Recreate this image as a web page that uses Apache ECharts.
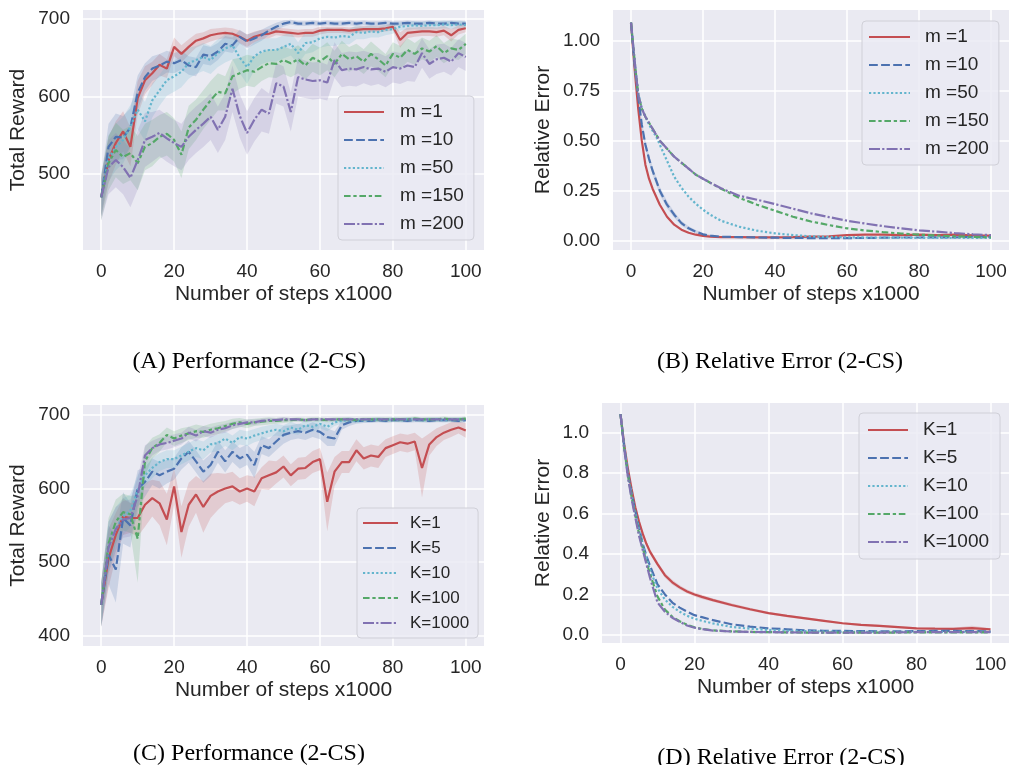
<!DOCTYPE html>
<html><head><meta charset="utf-8">
<script src="https://cdn.jsdelivr.net/npm/echarts@6/dist/echarts.min.js"></script>
<style>html,body{margin:0;padding:0;background:#fff;}#c{width:1010px;height:765px;}</style>
</head><body><div id="c"></div>
<script>
// ---------- x values ----------
const steps = [0,2,4,6,8,10,12,14,16,18,20,22,24,26,28,30,32,34,36,38,40,42,44,46,48,50,52,54,56,58,60,62,64,66,68,70,72,74,76,78,80,82,84,86,88,90,92,94,96,98,100];
const stepsErr = [0,1,2,3,4,5,6,7,8,10,12,14,16,18,20,22,25,30,35,40,45,50,55,60,65,70,75,80,85,90,95,100];

// ---------- names / ticks / captions ----------
const namesM = ['m =1','m =10','m =50','m =150','m =200'];
const namesK = ['K=1','K=5','K=10','K=100','K=1000'];
const xTicks = [0,20,40,60,80,100];
const rewardTicksA = [500,600,700];
const rewardTicksC = [400,500,600,700];
const errTicksB = [0,0.25,0.5,0.75,1.0];
const errTicksD = [0,0.2,0.4,0.6,0.8,1.0];
const captions = ['(A) Performance (2-CS)','(B) Relative Error (2-CS)','(C) Performance (2-CS)','(D) Relative Error (2-CS)'];

// ---------- Panel A : Total Reward, m ----------
const aM1   = [470,518,540,555,535,598,621,630,641,636,664,655,664,672,675,679,681,682,681,677,672,677,680,681,684,683,682,681,682,682,685,686,686,686,685,686,687,687,687,688,690,673,682,683,684,684,683,685,679,686,688];
const aM10  = [470,535,548,547,560,605,625,636,640,645,643,647,640,638,654,652,658,668,666,677,671,675,679,685,690,694,696,694,694,695,694,695,694,694,695,694,695,694,694,695,694,694,695,694,694,695,694,694,695,694,694];
const aM50  = [470,520,535,544,561,583,568,595,608,621,626,632,643,647,651,647,656,662,666,650,638,652,658,660,660,664,668,656,669,670,675,677,676,678,677,683,682,684,683,686,687,690,691,692,691,692,692,693,692,693,692];
const aM150 = [470,514,531,522,527,514,535,540,548,552,544,525,560,570,583,595,606,604,626,630,634,632,638,643,642,647,643,648,640,650,645,652,642,655,648,652,645,655,648,640,655,650,660,655,662,658,665,656,662,660,668];
const aM200 = [470,509,518,509,495,518,544,548,553,546,540,535,548,557,565,574,557,574,610,575,553,570,583,578,617,613,580,625,622,620,621,618,647,634,636,635,638,635,636,632,638,636,640,638,656,642,648,650,645,656,651];
const aS1   = [25,30,28,26,25,22,18,15,14,12,12,11,10,9,8,8,7,7,7,8,8,7,6,6,5,5,5,5,5,5,5,4,4,4,4,4,4,4,4,4,5,10,7,6,6,6,6,6,8,6,5];
const aS10  = [25,30,30,28,25,22,18,16,15,14,13,12,12,12,12,12,11,10,10,9,9,8,7,6,5,4,3,3,3,3,3,3,3,3,3,3,3,3,3,3,3,3,3,3,3,3,3,3,3,3,3];
const aS50  = [25,30,30,30,28,25,25,22,20,20,20,20,20,18,18,18,18,18,18,20,22,18,16,15,15,15,15,14,14,13,12,12,11,10,10,9,8,8,7,7,6,5,5,5,5,5,5,5,5,5,5];
const aS150 = [30,35,35,35,35,35,30,30,28,28,28,30,28,26,25,25,24,22,22,20,20,20,18,18,18,18,18,18,18,18,18,18,17,17,16,16,16,16,15,15,15,15,15,14,14,14,14,13,13,13,13];
const aS200 = [30,35,35,35,38,38,35,32,30,30,30,30,30,30,30,30,30,30,30,28,28,28,28,26,26,26,25,25,24,24,24,23,23,22,22,22,21,21,20,20,20,20,20,19,19,19,19,18,18,18,18];

// ---------- Panel B : Relative Error, m ----------
const bM1   = [1.09,0.86,0.66,0.50,0.38,0.31,0.26,0.22,0.18,0.12,0.08,0.055,0.04,0.03,0.024,0.02,0.018,0.018,0.017,0.017,0.018,0.02,0.022,0.028,0.03,0.03,0.028,0.03,0.028,0.03,0.027,0.025];
const bM10  = [1.09,0.88,0.72,0.58,0.48,0.41,0.35,0.30,0.25,0.18,0.13,0.088,0.062,0.045,0.032,0.025,0.02,0.018,0.016,0.015,0.014,0.013,0.013,0.013,0.014,0.015,0.016,0.016,0.017,0.017,0.018,0.018];
const bM50  = [1.09,0.90,0.74,0.66,0.62,0.58,0.55,0.52,0.48,0.40,0.32,0.265,0.22,0.185,0.155,0.13,0.10,0.07,0.05,0.037,0.028,0.022,0.019,0.017,0.016,0.015,0.015,0.014,0.014,0.014,0.014,0.014];
const bM150 = [1.09,0.90,0.73,0.66,0.62,0.59,0.56,0.53,0.50,0.46,0.42,0.39,0.36,0.33,0.31,0.29,0.26,0.215,0.18,0.15,0.12,0.096,0.078,0.062,0.051,0.043,0.036,0.03,0.026,0.022,0.019,0.017];
const bM200 = [1.09,0.90,0.73,0.66,0.62,0.59,0.56,0.53,0.50,0.46,0.42,0.39,0.36,0.33,0.31,0.29,0.262,0.225,0.205,0.183,0.16,0.137,0.118,0.10,0.086,0.073,0.062,0.052,0.045,0.038,0.032,0.028];
const bS10  = [0,0.01,0.015,0.02,0.02,0.02,0.02,0.02,0.02,0.018,0.015,0.012,0.01,0.008,0.006,0.005,0.004,0.003,0.003,0.003,0.003,0.003,0.003,0.003,0.003,0.003,0.003,0.003,0.003,0.003,0.003,0.003];

// ---------- Panel C : Total Reward, K ----------
const cK1    = [442,505,537,562,560,560,578,587,580,558,603,541,578,592,575,590,596,600,603,596,600,596,614,618,622,630,618,627,628,636,640,582,623,636,636,652,641,645,643,655,659,663,661,664,628,660,670,676,680,683,679];
const cK5    = [442,510,490,560,550,600,609,623,618,623,627,641,650,637,623,632,650,637,650,641,646,632,659,655,664,673,676,678,676,680,677,670,668,686,690,692,692,692,693,692,693,693,692,693,693,692,693,693,693,692,693];
const cK10   = [442,520,545,562,570,598,618,628,636,640,640,645,650,655,652,660,662,668,662,670,668,672,675,678,680,678,683,680,686,684,688,684,690,692,693,692,693,693,694,693,694,693,694,694,693,694,694,693,694,694,694];
const cK100  = [442,525,555,568,565,532,637,655,662,673,668,672,675,678,677,680,682,685,688,690,688,690,691,692,692,693,693,694,693,694,694,693,694,694,694,693,694,694,694,694,694,694,694,695,694,694,694,695,694,694,695];
const cK1000 = [442,520,545,558,560,590,645,655,660,662,665,668,676,672,678,676,680,682,686,688,690,690,692,693,693,694,694,694,693,694,694,694,694,694,694,694,694,694,694,694,694,694,694,694,694,694,694,694,694,694,694];
const cS1    = [30,40,30,25,20,25,30,25,30,35,25,35,30,25,35,30,25,20,20,18,18,20,15,20,15,15,15,15,15,15,15,40,20,15,15,15,15,15,15,12,12,12,12,12,40,15,12,10,10,8,10];
const cS5    = [30,40,45,35,30,25,20,18,18,16,15,15,15,15,15,15,15,15,14,14,14,18,12,12,12,12,10,10,10,10,10,12,10,6,5,4,3,3,3,3,3,3,3,3,3,3,3,3,3,3,3];
const cS10   = [30,35,30,25,22,20,15,14,12,12,12,12,12,12,12,11,11,10,10,10,10,9,9,8,8,8,8,7,7,7,6,6,5,4,4,3,3,3,3,3,3,3,3,3,3,3,3,3,3,3,3];
const cS100  = [30,35,30,25,25,60,20,14,12,10,10,10,9,9,8,8,8,7,7,6,6,5,5,5,4,4,3,3,3,3,3,3,3,3,3,3,3,3,3,3,3,3,3,3,3,3,3,3,3,3,3];
const cS1000 = [30,35,30,25,25,25,14,10,9,9,9,8,8,8,7,7,6,6,5,5,4,4,3,3,3,3,2,2,2,2,2,2,2,2,2,2,2,2,2,2,2,2,2,2,2,2,2,2,2,2,2];

// ---------- Panel D : Relative Error, K ----------
const dK1    = [1.09,0.94,0.82,0.72,0.63,0.56,0.50,0.45,0.41,0.35,0.295,0.26,0.235,0.215,0.20,0.188,0.172,0.148,0.127,0.108,0.094,0.082,0.07,0.058,0.05,0.045,0.039,0.033,0.031,0.03,0.034,0.028];
const dK5    = [1.09,0.93,0.80,0.70,0.61,0.53,0.45,0.39,0.34,0.25,0.20,0.16,0.135,0.115,0.098,0.088,0.073,0.053,0.041,0.033,0.028,0.023,0.021,0.02,0.019,0.018,0.018,0.019,0.02,0.02,0.019,0.018];
const dK10   = [1.09,0.93,0.79,0.69,0.60,0.52,0.44,0.38,0.32,0.23,0.175,0.14,0.115,0.095,0.08,0.07,0.057,0.04,0.031,0.025,0.021,0.019,0.017,0.016,0.015,0.015,0.015,0.015,0.015,0.015,0.015,0.015];
const dK100  = [1.09,0.92,0.79,0.68,0.59,0.50,0.43,0.36,0.30,0.19,0.125,0.09,0.068,0.05,0.038,0.03,0.023,0.018,0.015,0.014,0.013,0.012,0.012,0.012,0.012,0.012,0.012,0.013,0.013,0.013,0.013,0.013];
const dK1000 = [1.09,0.92,0.78,0.67,0.58,0.49,0.42,0.35,0.28,0.16,0.115,0.085,0.065,0.047,0.036,0.029,0.022,0.017,0.015,0.014,0.013,0.012,0.012,0.012,0.012,0.012,0.013,0.014,0.014,0.014,0.014,0.014];
const dS1    = [0,0.01,0.012,0.012,0.012,0.012,0.012,0.012,0.012,0.012,0.012,0.012,0.01,0.01,0.01,0.01,0.008,0.008,0.007,0.006,0.006,0.005,0.005,0.005,0.005,0.005,0.005,0.005,0.005,0.006,0.012,0.005];

// ---------- styling ----------
const colors = ['#C44E52','#4C72B0','#64B5CD','#55A868','#8172B2'];
const dashTypes = ['solid',[8.8,3.3],[2.2,2.2],[6.6,2.75,3.3,2.75],[11,2.2,2.2,2.2]];
const FONT = '"Liberation Sans", Arial, sans-serif';
const TXT = '#262626';

const panels = [
  {xs: steps, names: namesM, means: [aM1,aM10,aM50,aM150,aM200], spreads: [aS1,aS10,aS50,aS150,aS200]},
  {xs: stepsErr, names: namesM, means: [bM1,bM10,bM50,bM150,bM200], spreads: [null,bS10,null,null,null]},
  {xs: steps, names: namesK, means: [cK1,cK5,cK10,cK100,cK1000], spreads: [cS1,cS5,cS10,cS100,cS1000]},
  {xs: stepsErr, names: namesK, means: [dK1,dK5,dK10,dK100,dK1000], spreads: [dS1,null,null,null,null]}
];

const grids = [
  {left: 83, top: 10, width: 401, height: 240},
  {left: 613, top: 10, width: 396, height: 240},
  {left: 83, top: 405, width: 401, height: 241},
  {left: 602, top: 403, width: 407, height: 240}
];
const yCfg = [
  {min: 402, max: 711.6, ticks: rewardTicksA, name: 'Total Reward', gap: 54, fmt: v => String(v)},
  {min: -0.0465, max: 1.1535, ticks: errTicksB, name: 'Relative Error', gap: 59, fmt: v => v.toFixed(2)},
  {min: 386, max: 713.6, ticks: rewardTicksC, name: 'Total Reward', gap: 54, fmt: v => String(v)},
  {min: -0.0395, max: 1.1446, ticks: errTicksD, name: 'Relative Error', gap: 48, fmt: v => v.toFixed(1)}
];

const xAxis = grids.map((g, i) => ({
  type: 'value', gridIndex: i, min: -5, max: 105,
  name: 'Number of steps x1000', nameLocation: 'middle', nameGap: 34,
  nameTextStyle: {fontSize: 21, color: TXT, fontFamily: FONT},
  axisLine: {show: false}, axisTick: {show: false, customValues: xTicks},
  axisLabel: {customValues: xTicks, fontSize: 19, color: TXT, fontFamily: FONT, margin: 12},
  splitLine: {show: true, lineStyle: {color: '#ffffff', width: 1.5}}
}));
const yAxis = yCfg.map((c, i) => ({
  type: 'value', gridIndex: i, min: c.min, max: c.max,
  name: c.name, nameLocation: 'middle', nameGap: c.gap, nameRotate: 90,
  nameTextStyle: {fontSize: 21, color: TXT, fontFamily: FONT},
  axisLine: {show: false}, axisTick: {show: false, customValues: c.ticks},
  axisLabel: {customValues: c.ticks, fontSize: 19, color: TXT, fontFamily: FONT, margin: 13, formatter: c.fmt},
  splitLine: {show: true, lineStyle: {color: '#ffffff', width: 1.5}}
}));

const series = [];
panels.forEach((p, pi) => {
  p.means.forEach((m, k) => {
    const sp = p.spreads[k];
    if (!sp) return;
    series.push({
      type: 'custom', name: 'band' + pi + '_' + k, xAxisIndex: pi, yAxisIndex: pi,
      silent: true, clip: true, z: 1, animation: false,
      data: [[p.xs[0], m[0]]],
      renderItem: function (params, api) {
        const up = p.xs.map((x, i) => api.coord([x, m[i] + sp[i]]));
        const lo = p.xs.map((x, i) => api.coord([x, m[i] - sp[i]])).reverse();
        return {type: 'polygon', shape: {points: up.concat(lo)},
          style: {fill: colors[k], opacity: 0.2, stroke: 'none'}};
      }
    });
  });
  p.means.forEach((m, k) => {
    series.push({type: 'line', name: p.names[k], xAxisIndex: pi, yAxisIndex: pi,
      data: p.xs.map((x, i) => [x, m[i]]), symbol: 'none', showSymbol: false,
      lineStyle: {color: colors[k], width: 2.2, type: dashTypes[k]}, itemStyle: {color: colors[k]},
      z: 3, animation: false});
  });
});

function legendCfg(names, left, top, itemW, itemH, gap, fs, lh, textPad, pad) {
  return {
    orient: 'vertical', left: left, top: top, data: names,
    itemWidth: itemW, itemHeight: itemH, itemGap: gap,
    itemStyle: {opacity: 0},
    textStyle: {fontSize: fs, color: TXT, fontFamily: FONT, lineHeight: lh, padding: [0, 0, 0, textPad]},
    backgroundColor: 'rgba(234,234,242,0.8)', borderColor: '#d0d0d8', borderWidth: 1, borderRadius: 4,
    padding: pad, selectedMode: false, z: 10
  };
}
const legend = [
  legendCfg(namesM, 338, 96, 40, 14, 8, 19, 20, 11, [6, 10, 6, 5]),
  legendCfg(namesM, 862, 21, 41, 14, 8, 19, 20, 10, [6, 10, 6, 6]),
  legendCfg(namesK, 357, 508, 35, 12, 7, 17, 18, 7, [6, 9, 6, 5]),
  legendCfg(namesK, 859, 413, 40, 14, 8, 19, 20, 10, [7, 11, 7, 8])
];

const capPos = [[249, 362], [780, 362], [249, 754], [781, 758]];
const graphic = captions.map((t, i) => ({
  type: 'text', x: capPos[i][0], y: capPos[i][1], silent: true,
  style: {text: t, fontSize: 24, fontFamily: '"Liberation Serif", "Times New Roman", serif', fill: '#000',
    textAlign: 'center', textVerticalAlign: 'middle', align: 'center', verticalAlign: 'middle'}
}));

const chart = echarts.init(document.getElementById('c'), null, {renderer: 'canvas'});
chart.setOption({
  backgroundColor: '#ffffff', animation: false,
  grid: grids.map(g => Object.assign({show: true, backgroundColor: '#EAEAF2', borderWidth: 0, containLabel: false}, g)),
  xAxis: xAxis, yAxis: yAxis, legend: legend, series: series, graphic: graphic
});
</script></body></html>
